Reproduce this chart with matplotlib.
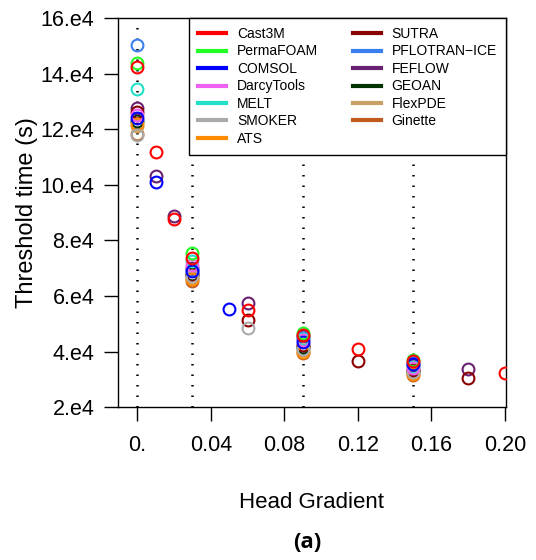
import matplotlib
matplotlib.use("Agg")
import matplotlib.pyplot as plt
from matplotlib.lines import Line2D

plt.rcParams['font.family'] = ['Liberation Sans', 'DejaVu Sans']

# codes, legend order
codes = ['Cast3M', 'PermaFOAM', 'COMSOL', 'DarcyTools', 'MELT', 'SMOKER', 'ATS',
         'SUTRA', 'PFLOTRAN\u2212ICE', 'FEFLOW', 'GEOAN', 'FlexPDE', 'Ginette']
colors = ['#ff0000', '#22ff22', '#0000ff', '#f060f0', '#20e0c8', '#aaaaaa', '#ff8c00',
          '#8b0000', '#3a7ff0', '#6a2070', '#003300', '#c8a064', '#c05a1a']

# gradients where every code has a result (dotted lines)
main_grad = [0.0, 0.03, 0.09, 0.15]

# threshold time (s) of each code at main_grad
t_cast3m = [142300, 73700, 46000, 36500]
t_permafoam = [143900, 75300, 46500, 37000]
t_comsol = [124000, 69000, 43500, 35500]
t_darcytools = [125000, 71000, 44000, 34000]
t_melt = [134500, 72500, 44500, 34500]
t_smoker = [117800, 67000, 41000, 32500]
t_ats = [122000, 66000, 40000, 31800]
t_sutra = [126000, 67500, 42500, 33500]
t_pflotran = [150200, 69500, 45000, 36000]
t_feflow = [127500, 70000, 45500, 35000]
t_geoan = [123000, 68000, 41500, 33000]
t_flexpde = [121000, 66500, 40500, 32200]
t_ginette = [118300, 65300, 39600, 31500]

main_times = [t_cast3m, t_permafoam, t_comsol, t_darcytools, t_melt, t_smoker, t_ats,
              t_sutra, t_pflotran, t_feflow, t_geoan, t_flexpde, t_ginette]

# extra results at other gradients
extra_code = ['Cast3M', 'FEFLOW', 'COMSOL', 'FEFLOW', 'Cast3M', 'COMSOL', 'FEFLOW',
              'Cast3M', 'SUTRA', 'SMOKER', 'Cast3M', 'SUTRA', 'FEFLOW', 'SUTRA', 'Cast3M']
extra_grad = [0.01, 0.01, 0.01, 0.02, 0.02, 0.05, 0.06,
              0.06, 0.06, 0.06, 0.12, 0.12, 0.18, 0.18, 0.20]
extra_time = [111700, 103300, 100900, 88700, 87500, 55400, 57600,
              55100, 51500, 48600, 40800, 36500, 33600, 30300, 32400]

xticks = [0, 0.04, 0.08, 0.12, 0.16, 0.20]
xticklabels = ['0.', '0.04', '0.08', '0.12', '0.16', '0.20']
yticks = [20000, 40000, 60000, 80000, 100000, 120000, 140000, 160000]
yticklabels = ['2.e4', '4.e4', '6.e4', '8.e4', '10.e4', '12.e4', '14.e4', '16.e4']

fig = plt.figure(figsize=(5.36, 5.6), dpi=100)
ax = fig.add_axes([0.220, 0.273, 0.724, 0.695])

for g in main_grad:
    ax.axvline(g, color='black', lw=1.8, ls=(0, (0.6, 3.6)), zorder=1)

mk = dict(marker='o', ms=8.5, mfc='none', mew=1.5, ls='none', zorder=3)
# draw in reverse so Cast3M ends on top
for name, col, times in list(zip(codes, colors, main_times))[::-1]:
    ax.plot(main_grad, times, color=col, **mk)
    xs = [g for c, g in zip(extra_code, extra_grad) if c == name]
    ys = [t for c, t in zip(extra_code, extra_time) if c == name]
    if xs:
        ax.plot(xs, ys, color=col, **mk)

ax.set_xlim(-0.0105, 0.2005)
ax.set_ylim(20000, 160000)
ax.set_xticks(xticks)
ax.set_xticklabels(xticklabels)
ax.set_yticks(yticks)
ax.set_yticklabels(yticklabels)
ax.tick_params(length=10, width=1, labelsize=15.5, direction='out')
ax.tick_params(axis='y', pad=7)
ax.tick_params(axis='x', pad=10)
for s in ax.spines.values():
    s.set_linewidth(1)

ax.set_ylabel('Threshold time (s)', fontsize=17, labelpad=2)
ax.set_xlabel('Head Gradient', fontsize=16, labelpad=26)

handles = [Line2D([], [], color=c, lw=3) for c in colors]
leg = ax.legend(handles, codes, ncol=2, loc='upper right', bbox_to_anchor=(1, 1),
                borderaxespad=0, fontsize=10, frameon=True, fancybox=False,
                edgecolor='black', framealpha=1, handlelength=2, handletextpad=0.8,
                columnspacing=2.5, labelspacing=0.25, borderpad=0.65)
leg.get_frame().set_linewidth(1)

fig.text(0.573, 0.032, '(a)', fontsize=16, fontweight='bold', family='Open Sans',
         ha='center', va='center')

fig.savefig('out.png', dpi=100)
